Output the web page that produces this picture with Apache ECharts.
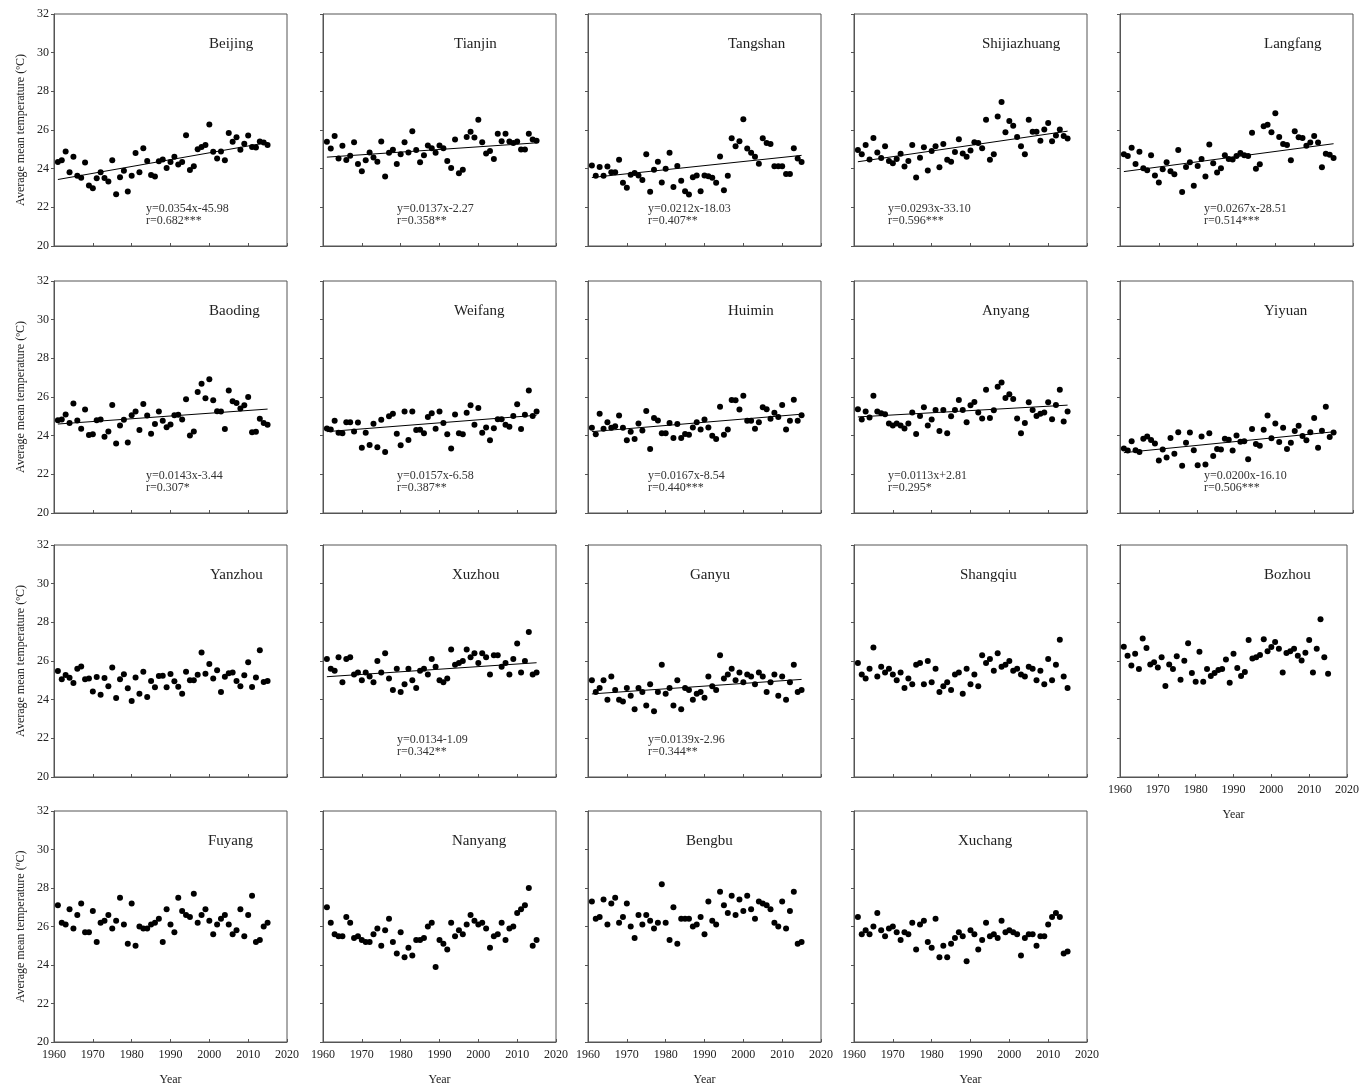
<!DOCTYPE html>
<html>
<head>
<meta charset="utf-8">
<script src="https://cdn.jsdelivr.net/npm/echarts@6/dist/echarts.min.js"></script>
<style>
  html, body { margin: 0; padding: 0; background: #fff; }
  #chart { width: 1362px; height: 1087px; }
</style>
</head>
<body>
<div id="chart"></div>
<script>
// Years of record
const years = [1961,1962,1963,1964,1965,1966,1967,1968,1969,1970,
  1971,1972,1973,1974,1975,1976,1977,1978,1979,1980,
  1981,1982,1983,1984,1985,1986,1987,1988,1989,1990,
  1991,1992,1993,1994,1995,1996,1997,1998,1999,2000,
  2001,2002,2003,2004,2005,2006,2007,2008,2009,2010,
  2011,2012,2013,2014,2015];

const xTicks = [1960, 1970, 1980, 1990, 2000, 2010, 2020];
const yTicks = [20, 22, 24, 26, 28, 30, 32];

// Average mean temperature per station (°C)
const tBeijing = [24.35,24.44,24.89,23.82,24.61,23.64,23.53,24.32,23.13,22.99,23.50,23.81,23.52,23.33,24.44,22.68,23.55,23.89,22.82,23.64,24.81,23.81,25.06,24.40,23.67,23.60,24.38,24.47,24.04,24.35,24.61,24.21,24.35,25.73,23.93,24.13,25.00,25.12,25.23,26.29,24.88,24.52,24.89,24.44,25.85,25.39,25.63,24.98,25.29,25.71,25.12,25.10,25.40,25.35,25.23];
const tTianjin = [25.39,25.04,25.69,24.52,25.18,24.45,24.67,25.37,24.24,23.87,24.43,24.84,24.58,24.36,25.40,23.59,24.82,24.98,24.24,24.75,25.37,24.84,25.93,24.96,24.33,24.70,25.20,25.06,24.82,25.20,25.06,24.40,24.04,25.51,23.76,23.95,25.64,25.91,25.61,26.53,25.37,24.79,24.92,24.50,25.80,25.42,25.80,25.40,25.33,25.40,24.99,24.99,25.81,25.51,25.44];
const tTangshan = [24.16,23.63,24.09,23.63,24.11,23.82,23.82,24.46,23.27,23.01,23.68,23.78,23.65,23.42,24.74,22.81,23.95,24.36,23.29,24.00,24.82,23.05,24.14,23.37,22.83,22.66,23.56,23.65,22.83,23.65,23.61,23.53,23.27,24.63,22.89,23.63,25.57,25.16,25.42,26.56,25.04,24.82,24.62,24.26,25.57,25.33,25.27,24.12,24.12,24.12,23.73,23.73,25.06,24.52,24.34];
const tShijiazhuang = [24.96,24.74,25.23,24.48,25.59,24.84,24.55,25.16,24.40,24.28,24.50,24.77,24.11,24.40,25.23,23.54,24.57,25.11,23.90,24.92,25.16,24.07,25.28,24.46,24.36,24.86,25.52,24.79,24.62,24.94,25.37,25.33,25.06,26.53,24.46,24.75,26.70,27.45,25.88,26.46,26.22,25.64,25.16,24.75,26.53,25.91,25.91,25.44,26.02,26.36,25.42,25.71,26.03,25.69,25.56];
const tLangfang = [24.74,24.65,25.08,24.24,24.87,24.02,23.92,24.69,23.65,23.29,23.97,24.33,23.87,23.71,24.96,22.79,24.09,24.33,23.12,24.14,24.50,23.59,25.25,24.28,23.80,24.02,24.70,24.50,24.48,24.65,24.81,24.69,24.65,25.86,23.99,24.23,26.20,26.27,25.88,26.87,25.64,25.27,25.22,24.43,25.93,25.62,25.59,25.18,25.35,25.69,25.35,24.07,24.77,24.72,24.55];
const tBaoding = [24.80,24.84,25.09,24.66,25.66,24.78,24.36,25.35,24.03,24.07,24.80,24.84,23.95,24.22,25.59,23.59,24.53,24.82,23.65,25.06,25.25,24.29,25.64,25.04,24.10,24.60,25.25,24.77,24.44,24.58,25.06,25.08,24.84,25.88,24.01,24.22,26.26,26.68,25.93,26.92,25.83,25.26,25.25,24.34,26.33,25.78,25.69,25.40,25.57,26.00,24.18,24.20,24.87,24.66,24.56];
const tWeifang = [24.37,24.32,24.77,24.15,24.13,24.70,24.70,24.22,24.68,23.38,24.15,23.52,24.61,23.40,24.82,23.16,25.01,25.14,24.10,23.50,25.25,23.77,25.25,24.29,24.30,24.12,24.97,25.16,24.36,25.25,24.66,24.07,23.33,25.09,24.12,24.07,25.18,25.57,24.56,25.43,24.15,24.42,23.76,24.39,24.85,24.85,24.56,24.46,25.02,25.62,24.34,25.08,26.33,25.02,25.25];
const tHuimin = [24.41,24.07,25.14,24.36,24.70,24.41,24.49,25.04,24.41,23.76,24.20,23.83,24.63,24.27,25.28,23.31,24.92,24.78,24.12,24.12,24.65,23.88,24.60,23.88,24.08,24.05,24.42,24.70,24.32,24.84,24.42,24.00,23.83,25.49,24.05,24.32,25.85,25.83,25.35,26.07,24.77,24.77,24.36,24.70,25.47,25.37,24.87,25.18,24.97,25.59,24.32,24.77,25.86,24.77,25.06];
const tAnyang = [25.37,24.84,25.25,24.94,26.07,25.25,25.16,25.11,24.63,24.53,24.63,24.53,24.37,24.63,25.20,24.08,25.02,25.47,24.53,24.84,25.33,24.24,25.33,24.13,25.01,25.33,25.85,25.33,24.70,25.57,25.74,25.20,24.89,26.38,24.92,25.32,26.53,26.75,25.95,26.14,25.90,24.89,24.13,24.66,25.73,25.33,25.02,25.13,25.20,25.73,24.85,25.59,26.38,24.73,25.25];
const tYiyuan = [23.33,23.23,23.71,23.24,23.16,23.84,23.96,23.77,23.59,22.71,23.29,22.87,23.88,23.07,24.18,22.44,23.64,24.17,23.24,22.47,23.96,22.51,24.13,22.95,23.31,23.28,23.84,23.79,23.23,24.01,23.69,23.71,22.78,24.34,23.57,23.48,24.30,25.04,23.86,24.63,23.67,24.41,23.31,23.64,24.24,24.51,23.98,23.76,24.18,24.92,23.38,24.25,25.49,23.93,24.17];
const tYanzhou = [25.48,25.05,25.27,25.14,24.86,25.60,25.72,25.05,25.09,24.42,25.17,24.26,25.12,24.69,25.67,24.09,25.05,25.31,24.59,23.93,25.15,24.30,25.45,24.14,24.97,24.64,25.22,25.24,24.64,25.33,24.95,24.67,24.31,25.45,25.00,25.00,25.29,26.44,25.34,25.84,25.09,25.52,24.40,25.19,25.36,25.40,24.97,24.69,25.26,25.93,24.66,25.15,26.55,24.91,24.97];
const tXuzhou = [26.1,25.6,25.5,26.2,24.9,26.1,26.2,25.3,25.4,25.0,25.4,25.2,24.9,26.0,25.4,26.4,25.1,24.5,25.6,24.4,24.8,25.6,25.0,24.6,25.5,25.6,25.3,26.1,25.7,25.0,24.9,25.1,26.6,25.8,25.9,26.0,26.6,26.2,26.4,25.9,26.4,26.2,25.3,26.3,26.3,25.7,25.9,25.3,26.1,26.9,25.4,26.0,27.5,25.3,25.4];
const tGanyu = [25.0,24.4,24.6,25.0,24.0,25.2,24.5,24.0,23.9,24.6,24.2,23.5,24.6,24.4,23.7,24.8,23.4,24.4,25.8,24.3,24.6,23.7,25.0,23.5,24.6,24.5,24.0,24.3,24.4,24.1,25.2,24.7,24.5,26.3,25.1,25.3,25.6,25.0,25.4,24.9,25.3,25.2,24.8,25.4,25.2,24.4,24.9,25.3,24.2,25.2,24.0,24.9,25.8,24.4,24.5];
const tShangqiu = [25.9,25.3,25.1,25.6,26.7,25.2,25.7,25.4,25.6,25.3,25.0,25.4,24.6,25.1,24.8,25.8,25.9,24.8,26.0,24.9,25.6,24.4,24.7,24.9,24.5,25.3,25.4,24.3,25.6,24.8,25.3,24.7,26.3,25.9,26.1,25.5,26.4,25.7,25.8,26.0,25.5,25.6,25.3,25.2,25.7,25.6,25.0,25.5,24.8,26.1,25.0,25.8,27.1,25.2,24.6];
const tBozhou = [26.74,26.27,25.77,26.37,25.58,27.16,26.67,25.82,25.93,25.67,26.20,24.71,25.82,25.58,26.25,25.03,26.01,26.92,25.38,24.93,26.48,24.93,25.58,25.22,25.38,25.53,25.58,26.08,24.88,26.37,25.64,25.22,25.43,27.08,26.13,26.19,26.31,27.13,26.51,26.72,26.98,26.63,25.40,26.41,26.51,26.63,26.27,26.03,26.43,27.08,25.41,26.63,28.16,26.19,25.34];
const tFuyang = [27.1,26.2,26.1,26.9,25.9,26.6,27.2,25.7,25.7,26.8,25.2,26.2,26.3,26.6,25.9,26.3,27.5,26.1,25.1,27.2,25.0,26.0,25.9,25.9,26.1,26.2,26.4,25.2,26.9,26.1,25.7,27.5,26.8,26.6,26.5,27.7,26.2,26.6,26.9,26.3,25.6,26.1,26.4,26.6,26.1,25.6,25.8,26.9,25.5,26.6,27.6,25.2,25.3,26.0,26.2];
const tNanyang = [27.0,26.2,25.6,25.5,25.5,26.5,26.2,25.4,25.5,25.3,25.2,25.2,25.6,25.9,25.0,25.8,26.4,25.2,24.6,25.7,24.4,24.9,24.5,25.3,25.3,25.4,26.0,26.2,23.9,25.3,25.1,24.8,26.2,25.5,25.8,25.6,26.1,26.6,26.3,26.1,26.2,25.9,24.9,25.5,25.6,26.2,25.3,25.9,26.0,26.7,26.9,27.1,28.0,25.0,25.3];
const tBengbu = [27.3,26.4,26.5,27.4,26.1,27.2,27.5,26.2,26.5,27.2,26.0,25.4,26.6,26.1,26.6,26.3,25.9,26.2,28.2,26.2,25.3,27.0,25.1,26.4,26.4,26.4,26.0,26.1,26.5,25.6,27.3,26.3,26.1,27.8,27.1,26.7,27.6,26.6,27.4,26.8,27.6,26.9,26.4,27.3,27.2,27.1,26.9,26.2,26.0,27.3,25.9,26.8,27.8,25.1,25.2];
const tXuchang = [26.5,25.6,25.8,25.6,26.0,26.7,25.8,25.5,25.9,26.0,25.7,25.3,25.7,25.6,26.2,24.8,26.1,26.3,25.2,24.9,26.4,24.4,25.0,24.4,25.1,25.4,25.7,25.5,24.2,25.8,25.6,24.8,25.3,26.2,25.5,25.6,25.4,26.3,25.7,25.8,25.7,25.6,24.5,25.4,25.6,25.6,25.0,25.5,25.5,26.1,26.5,26.7,26.5,24.6,24.7];

const stationNames = ['Beijing','Tianjin','Tangshan','Shijiazhuang','Langfang',
  'Baoding','Weifang','Huimin','Anyang','Yiyuan',
  'Yanzhou','Xuzhou','Ganyu','Shangqiu','Bozhou',
  'Fuyang','Nanyang','Bengbu','Xuchang'];
const stationTemps = [tBeijing,tTianjin,tTangshan,tShijiazhuang,tLangfang,
  tBaoding,tWeifang,tHuimin,tAnyang,tYiyuan,
  tYanzhou,tXuzhou,tGanyu,tShangqiu,tBozhou,
  tFuyang,tNanyang,tBengbu,tXuchang];

// Linear trend (slope, intercept) and its printed form; null where no trend is reported
const trendSlope     = [0.0354,0.0137,0.0212,0.0293,0.0267,0.0143,0.0157,0.0167,0.0113,0.0200,null,0.0134,0.0139,null,null,null,null,null,null];
const trendIntercept = [-45.98,-2.27,-18.03,-33.10,-28.51,-3.44,-6.58,-8.54,2.81,-16.10,null,-1.09,-2.96,null,null,null,null,null,null];
const trendEquation  = ['y=0.0354x-45.98','y=0.0137x-2.27','y=0.0212x-18.03','y=0.0293x-33.10','y=0.0267x-28.51',
  'y=0.0143x-3.44','y=0.0157x-6.58','y=0.0167x-8.54','y=0.0113x+2.81','y=0.0200x-16.10',
  null,'y=0.0134-1.09','y=0.0139x-2.96',null,null,null,null,null,null];
const trendR = ['r=0.682***','r=0.358**','r=0.407**','r=0.596***','r=0.514***',
  'r=0.307*','r=0.387**','r=0.440***','r=0.295*','r=0.506***',
  null,'r=0.342**','r=0.344**',null,null,null,null,null,null];

// ---- layout ----
const colLeft = [54, 323, 588, 854, 1120];
const rowTop = [14, 281, 545, 811];
const PW = 233, PH = 232;
const titleX = [209, 454, 728, 982, 1264,
                209, 454, 728, 982, 1264,
                210, 452, 690, 960, 1264,
                208, 452, 686, 958];
const eqX = [146, 397, 648, 888, 1204];

const FONT = '"Liberation Serif", "Times New Roman", serif';
const INK = '#222';
const FRAME = '#555';

const grids = [], xAxes = [], yAxes = [], series = [], graphics = [];

stationNames.forEach((name, i) => {
  const row = Math.floor(i / 5), col = i % 5;
  const left = colLeft[col], top = rowTop[row];
  const showX = (row === 3) || (i === 14);
  const showY = col === 0;

  grids.push({ left: left, top: top, width: PW, height: PH, show: true,
    borderColor: FRAME, borderWidth: 1, backgroundColor: 'transparent' });

  xAxes.push({
    gridIndex: i, type: 'value', min: xTicks[0], max: xTicks[xTicks.length - 1], interval: 10,
    axisLine: { show: true, onZero: false, lineStyle: { color: FRAME, width: 1 } },
    axisTick: { show: true, inside: true, length: 3, lineStyle: { color: FRAME } },
    axisLabel: { show: showX, color: INK, fontFamily: FONT, fontSize: 12, margin: 7,
      formatter: v => String(v) },
    splitLine: { show: false },
    name: showX ? 'Year' : '', nameLocation: 'middle', nameGap: 32,
    nameTextStyle: { color: INK, fontFamily: FONT, fontSize: 12 }
  });

  yAxes.push({
    gridIndex: i, type: 'value', min: yTicks[0], max: yTicks[yTicks.length - 1], interval: 2,
    axisLine: { show: true, onZero: false, lineStyle: { color: FRAME, width: 1 } },
    axisTick: { show: true, inside: false, length: 3, lineStyle: { color: FRAME } },
    axisLabel: { show: showY, color: INK, fontFamily: FONT, fontSize: 12, margin: 5,
      formatter: v => String(v) },
    splitLine: { show: false },
    name: showY ? 'Average mean temperature (\u00BAC)' : '', nameLocation: 'middle', nameGap: 27,
    nameRotate: 90,
    nameTextStyle: { color: INK, fontFamily: FONT, fontSize: 12 }
  });

  const temps = stationTemps[i];
  series.push({
    type: 'scatter', xAxisIndex: i, yAxisIndex: i,
    data: years.map((yr, k) => [yr, temps[k]]),
    symbol: 'circle', symbolSize: 6,
    itemStyle: { color: '#000', opacity: 1 }, silent: true, z: 3
  });

  if (trendSlope[i] !== null) {
    const a = trendSlope[i], b = trendIntercept[i];
    const x0 = years[0], x1 = years[years.length - 1];
    series.push({
      type: 'line', xAxisIndex: i, yAxisIndex: i,
      data: [[x0, a * x0 + b], [x1, a * x1 + b]],
      symbol: 'none', lineStyle: { color: '#000', width: 1 }, silent: true, z: 2
    });
    graphics.push({ type: 'text', left: eqX[col], top: top + 189,
      style: { text: trendEquation[i], font: '12px ' + FONT, fill: '#333' } });
    graphics.push({ type: 'text', left: eqX[col], top: top + 201,
      style: { text: trendR[i], font: '12px ' + FONT, fill: '#333' } });
  }

  graphics.push({ type: 'text', left: titleX[i], top: top + 23,
    style: { text: name, font: '15px ' + FONT, fill: INK } });
});

const chart = echarts.init(document.getElementById('chart'), null, { renderer: 'canvas' });
chart.setOption({
  animation: false,
  backgroundColor: '#fff',
  grid: grids, xAxis: xAxes, yAxis: yAxes, series: series, graphic: graphics
});
</script>
</body>
</html>
